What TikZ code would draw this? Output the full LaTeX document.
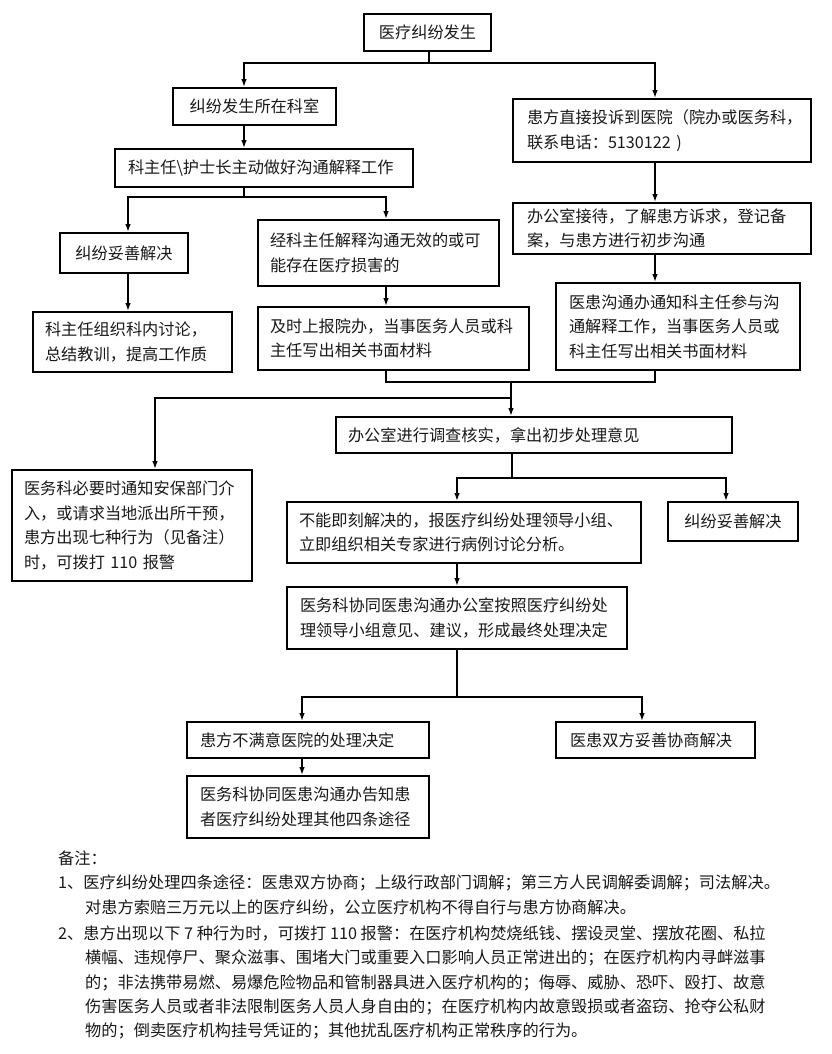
\documentclass[tikz,border=0pt]{standalone}
\usepackage{fontspec}
\setmainfont{Noto Sans CJK SC}
\usetikzlibrary{arrows.meta}
\newcommand\cjkfs{\fontsize{16.2}{24.5}\selectfont}
\begin{document}
\begin{tikzpicture}[x=1pt,y=-1pt,
  box/.style={draw=black, line width=1.7pt, inner ysep=0pt, inner xsep=12pt,
    align=left, font=\cjkfs, text=black!90},
  cbox/.style={box, align=center},
  conn/.style={line width=1.7pt, draw=black},
  arr/.style={conn, -{Latex[length=8pt,width=5.5pt]}},
  note/.style={anchor=west, inner sep=0pt, font=\cjkfs, text=black!90}]
\fill[white] (0,0) rectangle (831,1054);
\useasboundingbox (0,0) rectangle (831,1054);

% boxes
\node[cbox, text width=103, minimum height=37] (b1) at (427.5,32.5) {医疗纠纷发生};
\node[cbox, text width=139, minimum height=37] (b2) at (254.5,106.5) {纠纷发生所在科室};
\node[box, inner xsep=14pt, text width=270, minimum height=63] (r1) at (662,130.5) {患方直接投诉到医院（院办或医务科，\\联系电话：5130122 )};
\node[box, inner xsep=13pt, text width=272, minimum height=38] (b3) at (264,168) {科主任\textbackslash 护士长主动做好沟通解释工作};
\node[cbox, text width=104, minimum height=40] (b4) at (124,253) {纠纷妥善解决};
\node[box, text width=217, minimum height=66] (b5) at (378.5,253) {经科主任解释沟通无效的或可\\能存在医疗损害的};
\node[box, inner xsep=14pt, text width=270, minimum height=51] (r2) at (662,228.5) {办公室接待，了解患方诉求，登记备\\案，与患方进行初步沟通};
\node[box, inner xsep=13pt, text width=218, minimum height=87] (r3) at (678,326.5) {医患沟通办通知科主任参与沟\\通解释工作，当事医务人员或\\科主任写出相关书面材料};
\node[box, text width=175, minimum height=60] (b6) at (132.5,342) {科主任组织科内讨论，\\总结教训，提高工作质};
\node[box, text width=247, minimum height=63] (b7) at (393.5,338.5) {及时上报院办，当事医务人员或科\\主任写出相关书面材料};
\node[box, text width=372, minimum height=36] (b8) at (534,435) {办公室进行调查核实，拿出初步处理意见};
\node[box, text width=216, minimum height=111] (b9) at (132,525.5) {医务科必要时通知安保部门介\\入，或请求当地派出所干预，\\患方出现七种行为（见备注）\\时，可拨打 110 报警};
\node[box, text width=330, minimum height=61] (b10) at (464,532.5) {不能即刻解决的，报医疗纠纷处理领导小组、\\立即组织相关专家进行病例讨论分析。};
\node[cbox, text width=106, minimum height=39] (b11) at (733,521.5) {纠纷妥善解决};
\node[box, inner xsep=13pt, text width=314, minimum height=62] (b12) at (457,618) {医务科协同医患沟通办公室按照医疗纠纷处\\理领导小组意见、建议，形成最终处理决定};
\node[box, inner xsep=13pt, text width=216, minimum height=36] (b13) at (308,740) {患方不满意医院的处理决定};
\node[box, inner xsep=14pt, text width=171, minimum height=36] (b14) at (655.5,740) {医患双方妥善协商解决};
\node[box, inner xsep=13pt, text width=216, minimum height=62] (b15) at (308,807) {医务科协同医患沟通办告知患\\者医疗纠纷处理其他四条途径};

% junction coordinates
\coordinate (s1)  at (429,63);
\coordinate (s1l) at (244,63);
\coordinate (s1r) at (655,63);
\coordinate (s2l) at (128,197);
\coordinate (s2r) at (386,197);
\coordinate (m)   at (511,382);
\coordinate (ml)  at (155,398);
\coordinate (s3)  at (512,478);
\coordinate (s3l) at (457,478);
\coordinate (s3r) at (726,478);
\coordinate (s4l) at (302,697);
\coordinate (s4r) at (642,697);

% connectors
\draw[arr] (s1 |- b1.south) |- (s1l) -- (s1l |- b2.north);
\draw[arr] (s1 |- b1.south) |- (s1r) -- (s1r |- r1.north);
\draw[arr] (s1l |- b2.south) -- (s1l |- b3.north);
\draw[arr] (s1l |- b3.south) |- (s2l) -- (s2l |- b4.north);
\draw[arr] (s1l |- b3.south) |- (s2r) -- (s2r |- b5.north);
\draw[arr] (s1r |- r1.south) -- (s1r |- r2.north);
\draw[arr] (s1r |- r2.south) -- (s1r |- r3.north);
\draw[arr] (s2l |- b4.south) -- (s2l |- b6.north);
\draw[arr] (s2r |- b5.south) -- (s2r |- b7.north);
\draw[conn] (s2r |- b7.south) |- (m);
\draw[conn] (s1r |- r3.south) |- (m);
\draw[arr] (m) -- (m |- b8.north);
\draw[arr] (m |- ml) -- (ml) -- (ml |- b9.north);
\draw[arr] (s3 |- b8.south) |- (s3l) -- (s3l |- b10.north);
\draw[arr] (s3 |- b8.south) |- (s3r) -- (s3r |- b11.north);
\draw[arr] (s3l |- b10.south) -- (s3l |- b12.north);
\draw[arr] (s3l |- b12.south) |- (s4l) -- (s4l |- b13.north);
\draw[arr] (s3l |- b12.south) |- (s4r) -- (s4r |- b14.north);
\draw[arr] (s4l |- b13.south) -- (s4l |- b15.north);

% notes
\node[note] (n0) at (58,858) {备注：};
\node[note] (n1) at (58,883) {1、医疗纠纷处理四条途径：医患双方协商；上级行政部门调解；第三方人民调解委调解；司法解决。};
\node[note] (n2) at (85,908) {对患方索赔三万元以上的医疗纠纷，公立医疗机构不得自行与患方协商解决。};
\node[note] (n3) at (58,933) {2、患方出现以下 7 种行为时，可拨打 110 报警：在医疗机构焚烧纸钱、摆设灵堂、摆放花圈、私拉};
\node[note] (n4) at (85,958) {横幅、违规停尸、聚众滋事、围堵大门或重要入口影响人员正常进出的；在医疗机构内寻衅滋事};
\node[note] (n5) at (85,983) {的；非法携带易燃、易爆危险物品和管制器具进入医疗机构的；侮辱、威胁、恐吓、殴打、故意};
\node[note] (n6) at (85,1007) {伤害医务人员或者非法限制医务人员人身自由的；在医疗机构内故意毁损或者盗窃、抢夺公私财};
\node[note] (n7) at (85,1031) {物的；倒卖医疗机构挂号凭证的；其他扰乱医疗机构正常秩序的行为。};
\end{tikzpicture}
\end{document}
